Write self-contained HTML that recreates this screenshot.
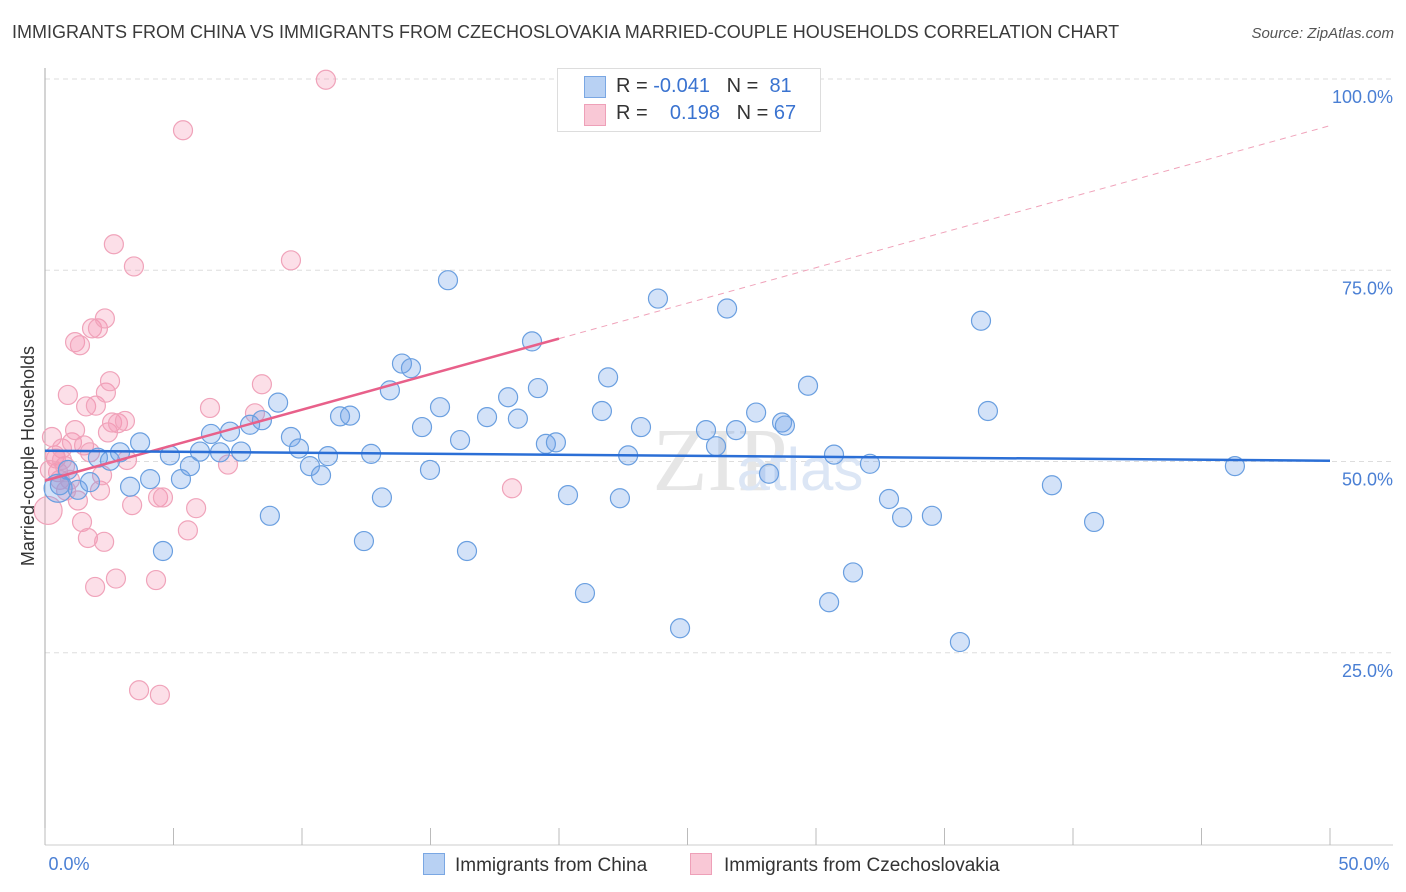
<!DOCTYPE html>
<html><head><meta charset="utf-8"><style>
body{margin:0;background:#fff;font-family:"Liberation Sans",sans-serif}
#wrap{position:relative;width:1406px;height:892px;overflow:hidden}
.t{position:absolute;white-space:nowrap}
</style></head><body>
<div id="wrap">
<div class="t" style="left:12px;top:22px;font-size:18px;color:#3a3a3a">IMMIGRANTS FROM CHINA VS IMMIGRANTS FROM CZECHOSLOVAKIA MARRIED-COUPLE HOUSEHOLDS CORRELATION CHART</div>
<div class="t" style="right:12px;top:25px;font-size:15px;color:#555;font-style:italic">Source: ZipAtlas.com</div>
<svg id="plot" width="1406" height="892" style="position:absolute;left:0;top:0"></svg>
</div>
<script>
const xTicks=[0,5,10,15,20,25,30,35,40,45,50];
const yGrid=[25,50,75,100];
const yTickLabels=["25.0%","50.0%","75.0%","100.0%"];
const cnX=[0.51,0.58,0.89,1.28,1.75,2.06,2.53,2.92,3.31,3.70,4.09,4.59,4.86,5.29,5.64,6.03,6.46,6.81,7.20,7.63,7.98,8.44,8.75,9.07,9.57,9.88,10.31,10.74,11.01,11.48,11.87,12.69,12.41,13.11,13.42,13.89,14.24,14.67,14.98,15.37,15.68,16.15,16.42,17.20,18.02,18.40,18.95,19.18,19.49,19.88,20.35,21.01,21.67,21.91,22.37,22.69,23.19,23.85,24.71,25.72,26.11,26.54,26.89,27.67,28.17,28.68,28.79,29.69,30.51,30.70,31.44,32.10,32.84,33.35,34.51,35.60,36.42,36.69,39.18,40.82,46.30];
const cnY=[46.5,46.9,48.9,46.3,47.3,50.5,50.1,51.2,46.7,52.5,47.7,38.3,50.8,47.7,49.4,51.3,53.6,51.2,53.9,51.3,54.8,55.4,42.9,57.7,53.2,51.7,49.4,48.2,50.7,55.9,56.0,51.0,39.6,45.3,59.3,62.8,62.2,54.5,48.9,57.1,73.7,52.8,38.3,55.8,58.4,55.6,65.7,59.6,52.3,52.5,45.6,32.8,56.6,61.0,45.2,50.8,54.5,71.3,28.2,54.1,52.0,70.0,54.1,56.4,48.4,55.1,54.7,59.9,31.6,50.9,35.5,49.7,45.1,42.7,42.9,26.4,68.4,56.6,46.9,42.1,49.4];
const czX=[0.12,0.27,0.39,0.51,0.66,0.78,0.89,1.05,1.17,1.28,1.36,1.44,1.52,1.60,1.67,1.83,1.95,1.98,2.06,2.14,2.22,2.30,2.33,2.37,2.45,2.53,2.61,2.68,2.76,2.84,3.11,3.19,3.39,3.46,3.66,4.32,4.40,4.47,4.59,5.37,5.56,5.88,6.42,7.12,8.17,8.44,9.57,10.93,18.17,0.43,0.58,0.97,0.82,1.75,0.66,1.17,0.19];
const czY=[43.6,53.2,50.8,48.6,51.7,49.4,58.7,52.5,65.6,44.9,65.2,42.1,52.1,57.2,40.0,67.4,33.6,57.3,67.4,46.2,48.2,39.5,68.7,59.0,53.8,60.5,55.1,78.4,34.7,55.0,55.3,50.2,44.3,75.5,20.1,34.5,45.3,19.5,45.3,93.3,41.0,43.9,57.0,49.6,56.3,60.1,76.3,99.9,46.5,50.4,47.6,47.6,46.2,51.2,50.2,54.1,48.9];
const cnTrend=[51.4,50.1];
const czTrend=[47.5,93.9];
const L=45,R=1330,T=79,B=844;
const sx=v=>L+(R-L)*v/50, sy=v=>B-(B-T)*v/100;
const svg=document.getElementById('plot');const NS='http://www.w3.org/2000/svg';
function mk(tag,at){const e=document.createElementNS(NS,tag);for(const k in at)e.setAttribute(k,at[k]);svg.appendChild(e);return e;}
yGrid.forEach((g,i)=>{const l=mk('line',{x1:L,x2:1393,y1:sy(g),y2:sy(g),stroke:'#ddd','stroke-dasharray':'5,4'});


const t=mk('text',{x:1393,y:sy(g)+24,'text-anchor':'end','font-size':18,fill:'#4a7fd4','font-family':'Liberation Sans, sans-serif'});t.textContent=yTickLabels[i];

});
const ax=mk('line',{x1:L,x2:L,y1:68,y2:845,stroke:'#aaa'});


const bx=mk('line',{x1:L,x2:1393,y1:845,y2:845,stroke:'#ccc'});


xTicks.forEach(v=>{const l=mk('line',{x1:sx(v),x2:sx(v),y1:828,y2:845,stroke:'#bbb'});

});
[[0,'0.0%',69,'middle'],[50,'50.0%',1364,'middle']].forEach(a=>{const t=mk('text',{x:a[2],y:870,'text-anchor':a[3],'font-size':18,fill:'#4a7fd4','font-family':'Liberation Sans, sans-serif'});t.textContent=a[1];

});
const wm=mk('text',{x:720,y:490,'text-anchor':'middle','font-size':90,fill:'#e6e6e6','font-family':'Liberation Serif, serif'});wm.textContent='ZIP';


const wm2=mk('text',{x:800,y:490,'text-anchor':'middle','font-size':60,fill:'#dce6f5','font-family':'Liberation Sans, sans-serif'});wm2.textContent='atlas';


czX.forEach((x,i)=>{const c=mk('circle',{cx:sx(x),cy:sy(czY[i]),r:i==0?14:9.5,fill:'rgba(244,150,180,0.3)',stroke:'#f0a3ba','stroke-width':1.2});

});
cnX.forEach((x,i)=>{const c=mk('circle',{cx:sx(x),cy:sy(cnY[i]),r:i==0?14:9.5,fill:'rgba(110,160,232,0.3)',stroke:'#6a9fe0','stroke-width':1.2});

});
const czAt=x=>czTrend[0]+(czTrend[1]-czTrend[0])*x/50;
const pd=mk('line',{x1:sx(20),y1:sy(czAt(20)),x2:sx(50),y2:sy(czAt(50)),stroke:'#f0a3ba','stroke-dasharray':'6,5','stroke-width':1});


const ps=mk('line',{x1:sx(0),y1:sy(czAt(0)),x2:sx(20),y2:sy(czAt(20)),stroke:'#e8608a','stroke-width':2.5});


const bl=mk('line',{x1:sx(0),y1:sy(cnTrend[0]),x2:sx(50),y2:sy(cnTrend[1]),stroke:'#2b6fd6','stroke-width':2.5});


const yt=mk('text',{x:34,y:456,'text-anchor':'middle','font-size':18,fill:'#333',transform:'rotate(-90 34 456)','font-family':'Liberation Sans, sans-serif'});yt.textContent='Married-couple Households';


</script>
<div class="t" style="left:557px;top:68px;width:262px;height:62px;border:1px solid #ddd;background:#fff;font-size:20px;color:#333">
 <div style="position:absolute;left:26px;top:7px;width:20px;height:20px;background:#b8d1f3;border:1px solid #7aa7e3"></div>
 <div style="position:absolute;left:58px;top:6px">R = <span style="color:#3a73d0">-0.041</span>&nbsp;&nbsp;&nbsp;N = &nbsp;<span style="color:#3a73d0">81</span></div>
 <div style="position:absolute;left:26px;top:35px;width:20px;height:20px;background:#f9c8d6;border:1px solid #eea0b8"></div>
 <div style="position:absolute;left:58px;top:33px">R = &nbsp;&nbsp;&nbsp;<span style="color:#3a73d0">0.198</span>&nbsp;&nbsp;&nbsp;N = <span style="color:#3a73d0">67</span></div>
</div>
<div class="t" style="left:423px;top:853px;font-size:19px;color:#333"><span style="display:inline-block;width:20px;height:20px;background:#b8d1f3;border:1px solid #7aa7e3;vertical-align:-4px;margin-right:10px"></span>Immigrants from China</div>
<div class="t" style="left:690px;top:853px;font-size:19px;color:#333"><span style="display:inline-block;width:20px;height:20px;background:#f9c8d6;border:1px solid #eea0b8;vertical-align:-4px;margin-right:12px"></span>Immigrants from Czechoslovakia</div>
</body></html>
